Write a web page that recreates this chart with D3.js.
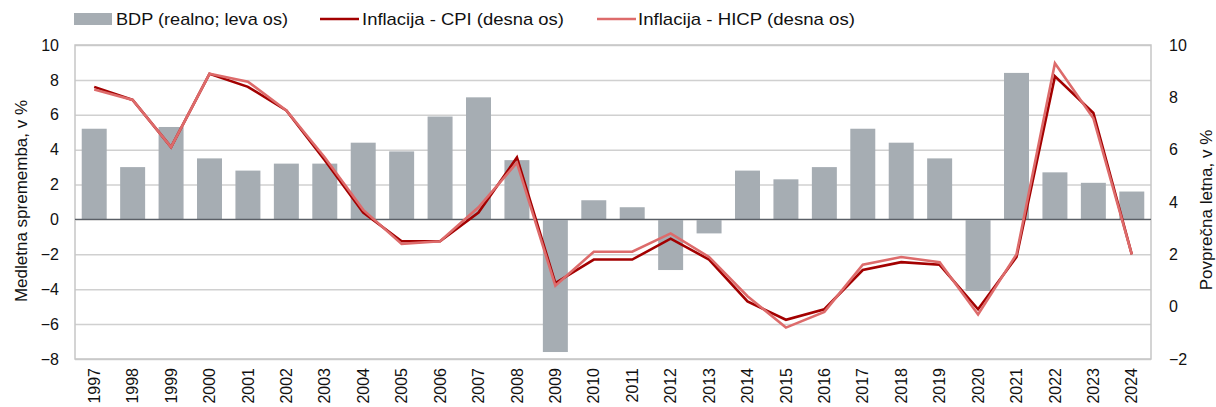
<!DOCTYPE html>
<html>
<head>
<meta charset="utf-8">
<script src="https://cdn.jsdelivr.net/npm/d3@7"></script>
<style>
  html, body { margin: 0; padding: 0; background: #fff; }
  svg { display: block; font-family: "Liberation Sans", Arial, sans-serif; }
</style>
</head>
<body>
<svg id="chart" width="1216" height="407"></svg>
<script>
// Years on the category axis
const years = ["1997","1998","1999","2000","2001","2002","2003","2004","2005","2006",
  "2007","2008","2009","2010","2011","2012","2013","2014","2015","2016",
  "2017","2018","2019","2020","2021","2022","2023","2024"];

// Real GDP, year-on-year change in % (left axis)
const gdp = [5.2, 3.0, 5.3, 3.5, 2.8, 3.2, 3.2, 4.4, 3.9, 5.9,
  7.0, 3.4, -7.6, 1.1, 0.7, -2.9, -0.8, 2.8, 2.3, 3.0,
  5.2, 4.4, 3.5, -4.1, 8.4, 2.7, 2.1, 1.6];

// Average annual inflation, CPI (right axis)
const cpi = [8.4, 7.9, 6.1, 8.9, 8.4, 7.5, 5.6, 3.6, 2.5, 2.5,
  3.6, 5.7, 0.9, 1.8, 1.8, 2.6, 1.8, 0.2, -0.5, -0.1,
  1.4, 1.7, 1.6, -0.1, 1.9, 8.8, 7.4, 2.0];

// Average annual inflation, HICP (right axis)
const hicp = [8.3, 7.9, 6.1, 8.9, 8.6, 7.5, 5.7, 3.7, 2.4, 2.5,
  3.8, 5.5, 0.8, 2.1, 2.1, 2.8, 1.9, 0.4, -0.8, -0.2,
  1.6, 1.9, 1.7, -0.3, 2.0, 9.3, 7.2, 2.0];

// Axis ticks
const leftTicks = [-8, -6, -4, -2, 0, 2, 4, 6, 8, 10];
const rightTicks = [-2, 0, 2, 4, 6, 8, 10];

// Legend labels
const legendLabels = ["BDP (realno; leva os)", "Inflacija - CPI (desna os)", "Inflacija - HICP (desna os)"];

const colors = { bar: "#a6adb3", cpi: "#a30000", hicp: "#dd6b6b", grid: "#d0d0d0", zero: "#5a5f66", text: "#111" };

const svg = d3.select("#chart");
const plot = { left: 75, right: 1151, top: 45, bottom: 359 };

const x = d3.scaleBand().domain(years).range([plot.left, plot.right]).paddingInner(0.35).paddingOuter(0.175);
const yL = d3.scaleLinear().domain([-8, 10]).range([plot.bottom, plot.top]);
const yR = d3.scaleLinear().domain([-2, 10]).range([plot.bottom, plot.top]);

// Gridlines from the left axis
svg.append("g")
  .attr("transform", `translate(${plot.left},0)`)
  .call(d3.axisLeft(yL).tickValues(leftTicks).tickSize(-(plot.right - plot.left)).tickFormat(""))
  .call(g => g.select(".domain").remove())
  .call(g => g.selectAll("line").attr("stroke", colors.grid).attr("stroke-width", 1.5));

// Plot frame
svg.append("rect")
  .attr("x", plot.left).attr("y", plot.top)
  .attr("width", plot.right - plot.left).attr("height", plot.bottom - plot.top)
  .attr("fill", "none").attr("stroke", "#c6c6c6").attr("stroke-width", 1.5);

// GDP bars
svg.append("g").selectAll("rect")
  .data(years.map((yr, i) => ({ yr, v: gdp[i] })))
  .join("rect")
  .attr("x", d => x(d.yr))
  .attr("width", x.bandwidth())
  .attr("y", d => yL(Math.max(0, d.v)))
  .attr("height", d => Math.abs(yL(d.v) - yL(0)))
  .attr("fill", colors.bar);

// Zero line
svg.append("line")
  .attr("x1", plot.left).attr("x2", plot.right)
  .attr("y1", yL(0)).attr("y2", yL(0))
  .attr("stroke", colors.zero).attr("stroke-width", 1.3);

// Inflation lines
const line = d3.line()
  .x((d, i) => x(years[i]) + x.bandwidth() / 2)
  .y(d => yR(d));

svg.append("path").datum(cpi)
  .attr("d", line).attr("fill", "none")
  .attr("stroke", colors.cpi).attr("stroke-width", 2.6).attr("stroke-linejoin", "miter");
svg.append("path").datum(hicp)
  .attr("d", line).attr("fill", "none")
  .attr("stroke", colors.hicp).attr("stroke-width", 2.6).attr("stroke-linejoin", "miter");

// Left axis labels
svg.append("g")
  .attr("transform", `translate(${plot.left},0)`)
  .call(d3.axisLeft(yL).tickValues(leftTicks).tickSize(0).tickPadding(16))
  .call(g => g.select(".domain").remove())
  .call(g => g.selectAll("text").attr("font-size", 16).attr("fill", colors.text)
    .attr("font-family", "Liberation Sans, Arial, sans-serif"));

// Right axis labels
svg.append("g")
  .attr("transform", `translate(${plot.right},0)`)
  .call(d3.axisRight(yR).tickValues(rightTicks).tickSize(0).tickPadding(18))
  .call(g => g.select(".domain").remove())
  .call(g => g.selectAll("text").attr("font-size", 16).attr("fill", colors.text)
    .attr("font-family", "Liberation Sans, Arial, sans-serif"));

// Category axis, rotated year labels
svg.append("g")
  .attr("transform", `translate(0,${plot.bottom})`)
  .call(d3.axisBottom(x).tickSize(0).tickPadding(0))
  .call(g => g.select(".domain").remove())
  .call(g => g.selectAll("text")
    .attr("font-size", 16).attr("fill", colors.text)
    .attr("font-family", "Liberation Sans, Arial, sans-serif")
    .attr("transform", "rotate(-90)")
    .attr("x", -9).attr("y", 0).attr("dy", "0.35em")
    .attr("text-anchor", "end"));

// Axis titles
svg.append("text")
  .attr("transform", `translate(27,201) rotate(-90)`)
  .attr("text-anchor", "middle").attr("font-size", 17).attr("fill", colors.text)
  .text("Medletna sprememba, v %");
svg.append("text")
  .attr("transform", `translate(1212,210) rotate(-90)`)
  .attr("text-anchor", "middle").attr("font-size", 17).attr("fill", colors.text)
  .text("Povprečna letna, v %");

// Legend
const legend = svg.append("g").attr("font-size", 17).attr("fill", colors.text);
const items = [
  { x: 74, type: "bar", color: colors.bar, tx: 116, tw: 172 },
  { x: 320, type: "line", color: colors.cpi, tx: 362, tw: 202 },
  { x: 597, type: "line", color: colors.hicp, tx: 638, tw: 217 }
];
items.forEach((it, i) => {
  if (it.type === "bar") {
    legend.append("rect").attr("x", it.x).attr("y", 13).attr("width", 38).attr("height", 12).attr("fill", it.color);
  } else {
    legend.append("line").attr("x1", it.x).attr("x2", it.x + 39).attr("y1", 19).attr("y2", 19)
      .attr("stroke", it.color).attr("stroke-width", 2.6);
  }
  legend.append("text").attr("x", it.tx).attr("y", 19).attr("dy", "0.35em")
    .attr("textLength", it.tw).attr("lengthAdjust", "spacingAndGlyphs")
    .text(legendLabels[i]);
});
</script>
</body>
</html>
